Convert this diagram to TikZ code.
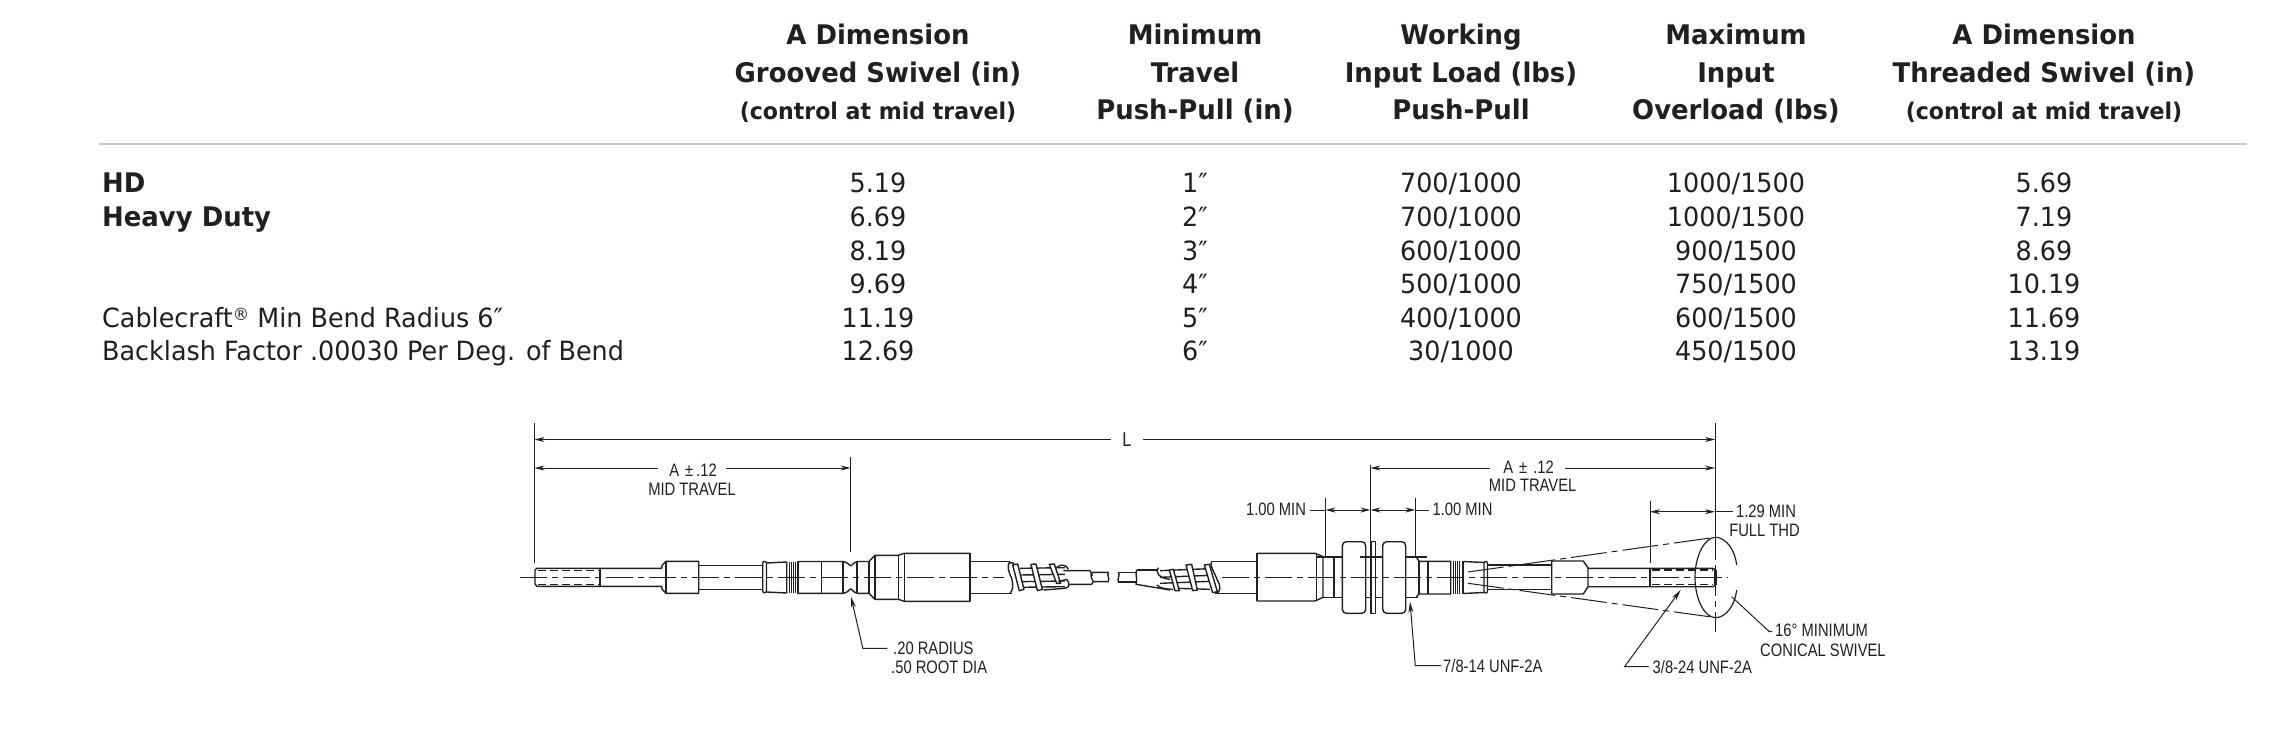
\documentclass[tikz,border=0pt]{standalone}
\usepackage{fontspec}
\usetikzlibrary{arrows.meta}
\newfontfamily\tabfont[FakeStretch=0.96]{DejaVu Sans}
\newfontfamily\lblfont[FakeStretch=0.82]{Liberation Sans}
\definecolor{ink}{HTML}{231F20}
\tikzset{
  hd/.style={font=\tabfont\fontsize{27}{27}\selectfont\bfseries,text=ink,inner sep=0pt,anchor=base},
  hs/.style={font=\tabfont\fontsize{23}{23}\selectfont\bfseries,text=ink,inner sep=0pt,anchor=base},
  cell/.style={font=\tabfont\fontsize{26.5}{27}\selectfont,text=ink,inner sep=0pt,anchor=base},
  lefth/.style={font=\tabfont\fontsize{27}{27}\selectfont\bfseries,text=ink,inner sep=0pt,anchor=base west},
  leftc/.style={font=\tabfont\fontsize{26.5}{27}\selectfont,text=ink,inner sep=0pt,anchor=base west},
  lbl/.style={font=\lblfont\fontsize{18}{18}\selectfont,text=ink,inner sep=0pt},
  obj/.style={draw=ink,line width=1.4pt,line join=round},
  thk/.style={draw=ink,line width=2.4pt},
  thn/.style={draw=ink,line width=1pt},
  dimline/.style={draw=ink,line width=1pt},
  dimarrow/.style={dimline,{Stealth[length=10pt,width=5pt]}-{Stealth[length=10pt,width=5pt]}},
  tiparrow/.style={dimline,-{Stealth[length=11pt,width=5pt]}},
  headonly/.style={dimline,{Stealth[length=10pt,width=5pt]}-},
  tailonly/.style={dimline,-{Stealth[length=10pt,width=5pt]}},
  ctr/.style={draw=ink,line width=1pt,dash pattern=on 27pt off 5pt on 6pt off 5pt},
  thrd/.style={draw=ink,line width=1.1pt,dash pattern=on 8pt off 4pt},
}
\begin{document}
\begin{tikzpicture}[x=1pt,y=-1pt]
\useasboundingbox (0,0) rectangle (2290,738);
\fill[white] (0,0) rectangle (2290,738);
% ---------- table headers
\node[hd] (h1a) at (878,45) {A Dimension};
\node[hd] (h1b) at (878,83) {Grooved Swivel (in)};
\node[hs] (h1c) at (878,120) {(control at mid travel)};
\node[hd] (h2a) at (1195,45) {Minimum};
\node[hd] (h2b) at (1195,83) {Travel};
\node[hd] (h2c) at (1195,120) {Push-Pull (in)};
\node[hd] (h3a) at (1461,45) {Working};
\node[hd] (h3b) at (1461,83) {Input Load (lbs)};
\node[hd] (h3c) at (1461,120) {Push-Pull};
\node[hd] (h4a) at (1736,45) {Maximum};
\node[hd] (h4b) at (1736,83) {Input};
\node[hd] (h4c) at (1736,120) {Overload (lbs)};
\node[hd] (h5a) at (2044,45) {A Dimension};
\node[hd] (h5b) at (2044,83) {Threaded Swivel (in)};
\node[hs] (h5c) at (2044,120) {(control at mid travel)};
\draw[draw=black!22,line width=2.4pt] (99,144) -- (2247,144);
% ---------- table body
\node[lefth] (l1) at (102,193) {HD};
\node[lefth] (l2) at (102,226.5) {Heavy Duty};
\node[leftc] (l5) at (102,327) {Cablecraft\raisebox{7pt}{\fontsize{17}{17}\selectfont®} Min Bend Radius 6″};
\node[leftc] (l6) at (102,360) {Backlash Factor .00030 Per Deg. of Bend};
\foreach \n/\y/\a/\b/\c/\d/\e in {
  1/193/5.19/1″/700\slash 1000/1000\slash 1500/5.69,
  2/226.5/6.69/2″/700\slash 1000/1000\slash 1500/7.19,
  3/260/8.19/3″/600\slash 1000/900\slash 1500/8.69,
  4/293.5/9.69/4″/500\slash 1000/750\slash 1500/10.19,
  5/327/11.19/5″/400\slash 1000/600\slash 1500/11.69,
  6/360/12.69/6″/30\slash 1000/450\slash 1500/13.19}{
  \node[cell] (a\n) at (878,\y) {\a};
  \node[cell] (b\n) at (1195,\y) {\b};
  \node[cell] (c\n) at (1461,\y) {\c};
  \node[cell] (d\n) at (1736,\y) {\d};
  \node[cell] (e\n) at (2044,\y) {\e};
}
% ---------- left half of the control
\draw[ctr] (520,577.3) -- (1004,577.3);
\draw[obj] (600,568.3) -- (537,568.3) -- (535,570) -- (535,584) -- (537,586.3) -- (600,586.3);
\draw[thrd] (538,570.5) -- (600,570.5) (538,584.3) -- (600,584.3);
\draw[obj] (600,568.3) -- (600,586.3);
\draw[obj] (600,568.3) -- (661.7,568.3) -- (662,565.5) -- (666,561.3) -- (698.7,561.3) -- (698.7,593.3) -- (666,593.3) -- (662,589) -- (661.7,586.3) -- (600,586.3);
\draw[obj] (666,561.3) -- (666,593.3);
\draw[obj] (698.7,565.3) -- (762.7,565.3) (698.7,589.7) -- (762.7,589.7);
\draw[obj] (762.7,563) -- (763.5,561.5) -- (765.5,561.5) -- (766.5,563) -- (766.5,591) -- (765.5,592.7) -- (763.5,592.7) -- (762.7,591) -- cycle;
\draw[obj] (766.5,563) -- (786.7,562) -- (786.7,593) -- (766.5,592);
\foreach \i/\x in {1/789,2/791.3,3/793.6,4/795.9} \draw[thn] (\x,561.5) -- (\x,593);
\draw[thk] (798,561) -- (798,593.5);
\draw[obj] (799,561.5) -- (843,561.5) .. controls (848,562) and (849,565.7) .. (850.7,565.7) .. controls (852.5,565.7) and (853,562) .. (858,561.5) -- (869,561.5) -- (875,555.3) -- (898.3,555.3) -- (904.3,553.3) -- (970,553.3) -- (970,601.3) -- (904.3,601.3) -- (898.3,599.3) -- (875,599.3) -- (869,593.3) -- (858,593.3) .. controls (853,593) and (852.5,589) .. (850.7,589) .. controls (849,589) and (848,593) .. (843,593.3) -- (799,593.3);
\draw[obj] (821.7,561.5) -- (821.7,593.3) (843,561.5) -- (843,593.3) (857,561.5) -- (857,593.3) (869,561.5) -- (869,593.3) (875,555.3) -- (875,599.3) (898.3,555.3) -- (898.3,599.3) (904.3,553.3) -- (904.3,601.3);
\draw[thk] (970,553.3) -- (970,601.3);
\draw[obj] (970,561.3) -- (1010,561.3) (970,593.3) -- (1012,593.3);
% left wire wrap (drawn in 3x units)
\begin{scope}[shift={(800,530)},x=0.3333pt,y=-0.3333pt]
  \draw[obj] (630,95) .. controls (620,105) and (625,125) .. (635,145) .. controls (640,165) and (640,180) .. (630,190);
  \draw[obj] (628,100) .. controls (640,95) and (645,100) .. (640,110);
  \foreach \yy in {115,135,155,172} \draw[obj] (660,\yy) -- (795,\yy-2);
  \draw[obj,fill=white] (638,105) -- (653,102) -- (672,178) -- (658,182) -- cycle;
  \draw[obj,fill=white] (693,103) -- (708,102) -- (727,178) -- (712,182) -- cycle;
  \draw[obj,fill=white] (748,103) -- (763,102) -- (782,160) -- (770,160) -- cycle;
  \draw[obj] (770,112) .. controls (785,100) and (800,105) .. (805,118);
  \draw[obj] (775,155) -- (800,148) .. controls (810,160) and (810,172) .. (795,175) -- (730,180);
  \draw[obj] (790,122) -- (870,122) -- (878,137) (808,163) -- (875,163) -- (880,155) .. controls (870,140) and (872,130) .. (878,127) -- (925,127) .. controls (920,135) and (930,145) .. (925,155) -- (880,155);
\end{scope}
% ---------- right half of the control
\begin{scope}[shift={(1110,520)},x=0.3333pt,y=-0.3333pt]
  \draw[obj] (25,157) -- (80,157) (25,186) -- (78,186);
  \draw[obj] (25,157) .. controls (32,165) and (20,178) .. (25,186);
  \draw[obj] (80,150) .. controls (74,160) and (84,175) .. (78,193) -- (180,210);
  \draw[obj] (80,150) -- (140,150);
  \foreach \yy in {152,172,190} \draw[obj] (150,\yy) -- (300,\yy-6);
  \draw[obj] (200,205) -- (300,208);
  \draw[obj] (145,143) .. controls (135,155) and (145,175) .. (180,178) (140,195) .. controls (150,205) and (170,208) .. (190,208);
  \draw[obj,fill=white] (178,150) -- (190,148) -- (208,212) -- (195,212) -- cycle;
  \draw[obj,fill=white] (228,135) -- (245,133) -- (262,210) -- (248,212) -- cycle;
  \draw[obj,fill=white] (283,135) -- (298,133) -- (322,215) -- (308,218) -- cycle;
  \draw[obj] (305,124) .. controls (298,135) and (310,150) .. (322,180) .. controls (334,200) and (332,218) .. (316,221);
  \draw[obj] (305,124) -- (440,124) (316,221) -- (440,221);
\end{scope}
\draw[thk] (1256.7,553.3) -- (1256.7,601);
\draw[obj] (1256.7,553.3) -- (1315,553.3) -- (1323,556.7) -- (1323,597.3) -- (1315,601) -- (1256.7,601);
\draw[obj] (1316.7,553.5) -- (1316.7,601) (1323,556.7) -- (1418,556.7) (1323,597.3) -- (1418,597.3) (1334,556.7) -- (1334,597.3);
\draw[obj,fill=white,rounded corners=4pt] (1342.3,541.7) rectangle (1365.7,613.3);
\draw[obj,fill=white] (1371,541.7) rectangle (1375.7,613.3);
\draw[obj,fill=white,rounded corners=4pt] (1382.7,541.7) rectangle (1405.7,613.3);
\draw[thk] (1316,556.7) -- (1343,556.7) (1360,556.7) -- (1383,556.7) (1405,556.7) -- (1427,556.7);
\draw[obj] (1416,556.7) -- (1419,561.3) -- (1450.7,561.3) -- (1450.7,594) -- (1419,594) -- (1416,597.3);
\draw[obj] (1419,561.3) -- (1419,594) (1428,561.3) -- (1428,594);
\foreach \i/\x in {1/1453,2/1455.3,3/1457.6,4/1459.9} \draw[thn] (\x,561.3) -- (\x,594);
\draw[thk] (1463,561) -- (1463,594);
\draw[obj] (1463,561.5) -- (1484,562.5) (1463,593.5) -- (1484,592.5);
\draw[obj] (1484,563) -- (1485,561.5) -- (1486.5,561.5) -- (1487.5,563) -- (1487.5,591.5) -- (1486.5,593) -- (1485,593) -- (1484,591.5) -- cycle;
\draw[obj] (1487.5,565) -- (1551.7,565) (1487.5,589.3) -- (1551.7,589.3);
\draw[obj] (1551.7,561) -- (1583.3,561) -- (1588,568) -- (1588,586.7) -- (1583.3,594) -- (1551.7,594) -- cycle;
\draw[obj] (1588,568.3) -- (1713,568.3) -- (1715.5,570) -- (1715.5,585) -- (1713,586.7) -- (1588,586.7);
\draw[obj] (1650,568.3) -- (1650,586.7);
\draw[thrd] (1652,570) -- (1713,570) (1652,584.7) -- (1713,584.7);
\draw[thk] (1715.5,570) -- (1715.5,585);
\draw[ctr] (1222,577.3) -- (1728,577.3);
% cone and swivel ellipse
\coordinate (apexU) at (1468,572);
\coordinate (apexL) at (1468,583.3);
\coordinate (rimU) at (1715,537.3);
\coordinate (rimL) at (1716.5,617.7);
\draw[ctr,dash pattern=on 36pt off 5pt on 6pt off 5pt] (apexU) -- (rimU);
\draw[ctr,dash pattern=on 36pt off 5pt on 6pt off 5pt] (apexL) -- (rimL);
\draw[obj,line width=1.2pt] (1715.5,537.3) .. controls (1705,537.3) and (1695,555) .. (1695,577.5) .. controls (1695,600) and (1705,617.7) .. (1715.5,617.7) .. controls (1726,617.7) and (1735,605) .. (1736.7,590);
\draw[obj,line width=1.2pt] (1736.7,565) .. controls (1735,550) and (1726,537.3) .. (1715.5,537.3);
% ---------- dimension lines
\coordinate (eL1) at (534.5,423);
\coordinate (eL2) at (534.5,563);
\coordinate (eA1) at (850.6,457);
\coordinate (eA2) at (850.6,552);
\coordinate (eR1) at (1715,423);
\coordinate (eR2) at (1715,540);
\coordinate (eR3) at (1715,633);
\draw[dimline] (eL1) -- (eL2);
\draw[dimline] (eA1) -- (eA2);
\draw[dimline] (eR1) -- (eR2);
\draw[dimline,dash pattern=on 20pt off 5pt on 6pt off 5pt] (eR2) -- (eR3);
\draw[dimline] (1325.5,498) -- (1325.5,556.7);
\draw[dimline] (1370.4,465) -- (1370.4,560);
\draw[dimline] (1415.3,498) -- (1415.3,556.7);
\draw[dimline] (1650,501) -- (1650,562.7);
% L
\node[lbl,font=\lblfont\fontsize{20}{20}\selectfont] (tL) at (1127,440) {L};
\draw[headonly] (534.5,439.5) -- (1111,439.5);
\draw[tailonly] (1143,439.5) -- (1715,439.5);
% A left
\node[lbl] (tA1) at (693,470) {A\,\,±\,.12};
\node[lbl] (tM1) at (692,489) {MID TRAVEL};
\draw[headonly] (534.5,468) -- (658,468);
\draw[tailonly] (726,468) -- (850.6,468);
% A right
\node[lbl] (tA2) at (1528.6,467) {A\,\,±\,\,.12};
\node[lbl] (tM2) at (1532.6,485) {MID TRAVEL};
\draw[headonly] (1370.4,468) -- (1490,468);
\draw[tailonly] (1565,468) -- (1715,468);
% 1.00 MIN
\node[lbl] (tm1) at (1276,509.5) {1.00 MIN};
\node[lbl] (tm2) at (1462.5,509.5) {1.00 MIN};
\draw[dimarrow] (1325.5,510) -- (1370.4,510);
\draw[dimarrow] (1370.4,510) -- (1415.3,510);
\draw[dimline] (1310,510) -- (1325.5,510);
\draw[dimline] (1415.3,510) -- (1429,510);
% 1.29
\node[lbl] (t129) at (1766,511) {1.29 MIN};
\node[lbl] (tfull) at (1764.5,530.7) {FULL THD};
\draw[dimarrow] (1650,511.7) -- (1715,511.7);
\draw[dimline] (1715,511.7) -- (1732.6,511.7);
% callouts
\node[lbl,anchor=west] (t20) at (893,648) {.20 RADIUS};
\node[lbl,anchor=west] (t50) at (891,667) {.50 ROOT DIA};
\node[lbl,anchor=west] (t78) at (1443,665.7) {7/8-14 UNF-2A};
\node[lbl,anchor=west] (t38) at (1652.5,667) {3/8-24 UNF-2A};
\node[lbl,anchor=west] (t16) at (1775,630) {16° MINIMUM};
\node[lbl,anchor=west] (tcon) at (1760,650) {CONICAL SWIVEL};
\coordinate (c20) at (851,596.7);
\coordinate (c78) at (1410,601.7);
\coordinate (c38) at (1680.6,590);
\coordinate (c16) at (1731.6,596.7);
\draw[tiparrow] (887.4,648.3) -- (862.8,648.3) -- (c20);
\draw[tiparrow] (1441,665.7) -- (1415.3,665.7) -- (c78);
\draw[tiparrow] (1648.5,666.7) -- (1624.5,666.7) -- (c38);
\draw[dimline] (1772,631.7) -- (1769.4,631.7) -- (c16);
\end{tikzpicture}
\end{document}
